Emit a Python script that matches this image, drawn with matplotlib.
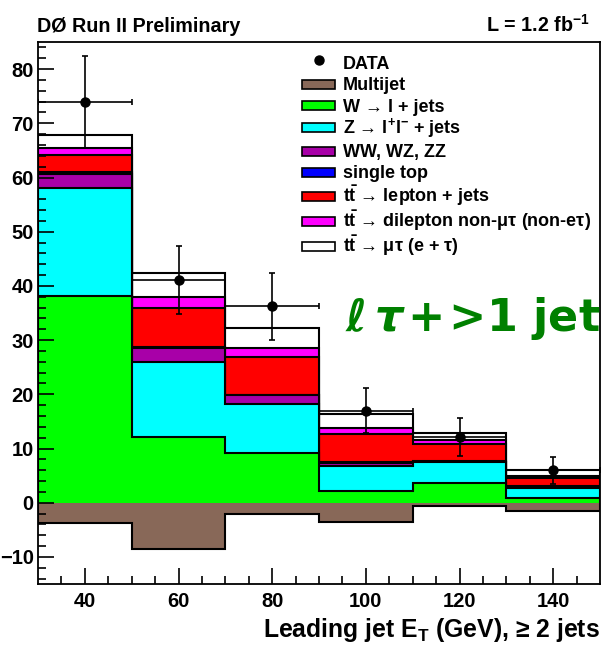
"""Leading jet ET distribution, l-tau + >=2 jets channel (stacked MC + data)."""
import numpy as np
import matplotlib
matplotlib.use("Agg")
import matplotlib.pyplot as plt
from matplotlib.patches import Patch, Rectangle
from matplotlib.lines import Line2D
from matplotlib.legend_handler import HandlerPatch

# bin edges (GeV) and per-bin contributions
edges = [30, 50, 70, 90, 110, 130, 150]
multijet = [-3.7, -8.5, -2.0, -3.5, -0.7, -1.6]
w_jets = [38.1, 12.1, 9.2, 2.1, 3.6, 0.9]
z_jets = [20.0, 13.8, 9.1, 4.75, 3.9, 1.8]
diboson = [2.5, 2.6, 1.5, 0.55, 0.1, 0.2]
single_top = [0.4, 0.2, 0.1, 0.1, 0.05, 0.1]
ttbar_ljets = [3.1, 7.2, 6.9, 5.1, 3.25, 1.5]
ttbar_dilep = [1.4, 2.1, 1.8, 1.2, 0.6, 0.4]
ttbar_mutau = [2.3, 4.4, 3.7, 2.5, 1.4, 1.2]

data_x = [40, 60, 80, 100, 120, 140]
data_y = [74.0, 41.1, 36.2, 17.0, 12.2, 6.0]
data_err = [8.5, 6.3, 6.1, 4.1, 3.5, 2.5]

components = [
    ("W \u2192 l + jets", w_jets, "#00ff00"),
    ("Z \u2192 l$^{+}$l$^{-}$ + jets", z_jets, "#00ffff"),
    ("WW, WZ, ZZ", diboson, "#a800a8"),
    ("single top", single_top, "#0000ff"),
    ("t$\\bar{\\rm t}$ \u2192 lepton + jets", ttbar_ljets, "#ff0000"),
    ("t$\\bar{\\rm t}$ \u2192 dilepton non-\u03bc\u03c4 (non-e\u03c4)", ttbar_dilep, "#ff00ff"),
    ("t$\\bar{\\rm t}$ \u2192 \u03bc\u03c4 (e + \u03c4)", ttbar_mutau, "#ffffff"),
]
multijet_color = "#886858"

plt.rcParams["font.family"] = ["Liberation Sans", "DejaVu Sans"]
plt.rcParams["font.weight"] = "bold"
plt.rcParams["mathtext.fontset"] = "custom"
plt.rcParams["mathtext.rm"] = "Liberation Sans:bold"
plt.rcParams["mathtext.it"] = "Liberation Sans:bold:italic"
plt.rcParams["mathtext.bf"] = "Liberation Sans:bold"


def small_box(legend, orig_handle, xdescent, ydescent, width, height, fontsize):
    # ROOT-like flat legend box, centred in a taller row
    h = 0.5 * fontsize
    return Rectangle((-xdescent, -ydescent + (height - h) / 2), width, h)


def main():
    fig = plt.figure(figsize=(6.07, 6.56), dpi=100)
    ax = fig.add_axes([38 / 607, 1 - 584 / 656, 562 / 607, 542 / 656])

    # THStack style: draw cumulative sums, tallest first
    cum = np.cumsum([c[1] for c in components], axis=0)
    for i in range(len(components) - 1, -1, -1):
        ax.stairs(cum[i], edges, baseline=0, fill=True,
                  facecolor=components[i][2], edgecolor="black", lw=1.5)
    ax.stairs(multijet, edges, baseline=0, fill=True,
              facecolor=multijet_color, edgecolor="black", lw=1.5)

    ax.errorbar(data_x, data_y, xerr=10, yerr=data_err, fmt="o", color="black",
                ms=6.5, elinewidth=1.2, capsize=2, capthick=1.2)

    ax.set_xlim(30, 150)
    ax.set_ylim(-15, 85)
    ax.set_xticks(range(40, 141, 20))
    ax.set_xticks(range(35, 150, 5), minor=True)
    ax.set_yticks(range(-10, 81, 10))
    ax.set_yticks(range(-14, 85, 2), minor=True)
    ax.tick_params(which="both", direction="in", top=False, right=False, width=1.2)
    ax.tick_params(which="major", length=11.5, labelsize=14.5)
    ax.tick_params(axis="y", which="major", pad=3)
    ax.tick_params(axis="x", which="major", pad=6)
    ax.tick_params(which="minor", length=5.8)
    for s in ax.spines.values():
        s.set_linewidth(1.3)

    ax.set_xlabel("Leading jet E$_{\\rm T}$ (GeV), \u2265 2 jets", loc="right",
                  fontsize=17.8, fontweight="bold", labelpad=3)

    ax.text(95.5, 31.6, "$\\ell\\,\\tau$\u200a+\u200a>1 jet", color="#008000",
            fontsize=32, fontweight="bold", family="DejaVu Sans",
            math_fontfamily="dejavusans", va="baseline", ha="left")

    handles = [Line2D([], [], ls="none", marker="o", color="black", ms=6.5)]
    labels = ["DATA"]
    handles.append(Patch(facecolor=multijet_color, edgecolor="black", lw=1.2))
    labels.append("Multijet")
    for lab, _, col in components:
        handles.append(Patch(facecolor=col, edgecolor="black", lw=1.2))
        labels.append(lab)
    ax.legend(handles, labels, loc="upper left", bbox_to_anchor=(302 / 607, 1 - 52 / 656),
              bbox_transform=fig.transFigure, frameon=False, fontsize=13,
              handlelength=1.85, handleheight=1.45, handletextpad=0.4,
              labelspacing=0.0, borderpad=0, borderaxespad=0,
              handler_map={Patch: HandlerPatch(patch_func=small_box)})

    fig.text(37 / 607, 1 - 32 / 656, "D\u00d8 Run II Preliminary", fontsize=14.2,
             fontweight="bold", va="baseline", ha="left")
    fig.text(590 / 607, 1 - 32 / 656, "L = 1.2 fb$^{-1}$", fontsize=14.2,
             fontweight="bold", va="baseline", ha="right")

    fig.savefig("out.png", dpi=100)
    plt.close(fig)


if __name__ == "__main__":
    main()
